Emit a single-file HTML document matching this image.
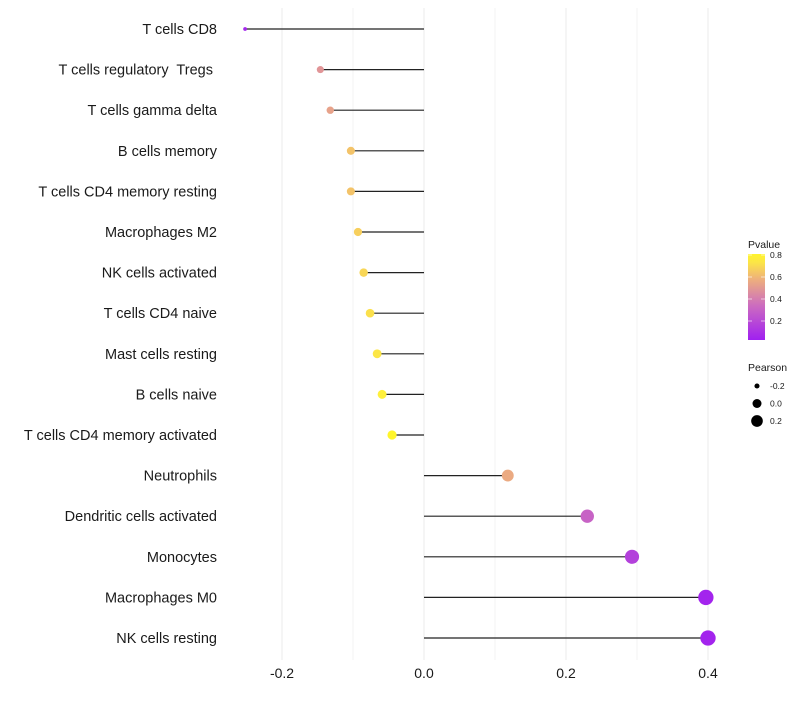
<!DOCTYPE html>
<html><head><meta charset="utf-8"><style>
body{margin:0;background:#fff;font-family:"Liberation Sans",sans-serif;}
text{white-space:pre;}
</style></head><body>
<svg id="chart" width="800" height="700" xmlns="http://www.w3.org/2000/svg" font-family="Liberation Sans, sans-serif"></svg>
<script>
const categories=["T cells CD8","T cells regulatory  Tregs ","T cells gamma delta","B cells memory","T cells CD4 memory resting","Macrophages M2","NK cells activated","T cells CD4 naive","Mast cells resting","B cells naive","T cells CD4 memory activated","Neutrophils","Dendritic cells activated","Monocytes","Macrophages M0","NK cells resting"];
const pearson=[-0.252,-0.146,-0.132,-0.103,-0.103,-0.093,-0.085,-0.076,-0.066,-0.059,-0.045,0.118,0.230,0.293,0.397,0.400];
const pvalues=[0.03,0.5,0.55,0.66,0.66,0.7,0.72,0.75,0.77,0.8,0.86,0.58,0.3,0.15,0.02,0.02];
const xTicks=[-0.2,0.0,0.2,0.4];
const xTickLabels=["-0.2","0.0","0.2","0.4"];
const legendP=[0.2,0.4,0.6,0.8];
const legendPearson=[-0.2,0.0,0.2];

const svg=document.getElementById('chart');
const NS="http://www.w3.org/2000/svg";
function el(t,a,p){const e=document.createElementNS(NS,t);for(const k in a)e.setAttribute(k,a[k]);(p||svg).appendChild(e);return e;}
const x=v=>424+v*710;
const y=i=>29+i*40.6;
const rad=v=>Math.sqrt(Math.max(25+85*v,2));
const stops=[[0,[160,32,240]],[0.35,[205,110,190]],[0.6,[238,175,125]],[0.8,[255,240,60]],[1,[255,255,0]]];
function col(p){p=Math.max(0,Math.min(1,p));for(let i=1;i<stops.length;i++){if(p<=stops[i][0]){const a=stops[i-1],b=stops[i],t=(p-a[0])/(b[0]-a[0]);const c=a[1].map((v,k)=>Math.round(v+(b[1][k]-v)*t));return`rgb(${c})`;}}return'rgb(255,255,0)';}

// grid
for(let k=-2;k<=4;k++){const v=k/10;const g=el('line',{x1:x(v),x2:x(v),y1:8,y2:660,stroke:'#ebebeb','stroke-width':k%2==0?1:0.6});

}
xTicks.forEach((v,i)=>{const t=el('text',{x:x(v),y:678,'text-anchor':'middle','font-size':14,fill:'#1a1a1a'});t.textContent=xTickLabels[i];

});
categories.forEach((c,i)=>{
 const t=el('text',{x:217,y:y(i)+5,'text-anchor':'end','font-size':14.5,fill:'#1a1a1a'});t.textContent=c;
 
 
 const l=el('line',{x1:x(0),x2:x(pearson[i]),y1:y(i),y2:y(i),stroke:'#222','stroke-width':1.2});
 
 
 const d=el('circle',{cx:x(pearson[i]),cy:y(i),r:rad(pearson[i]),fill:col(pvalues[i])});
 
 
});
// legend color
const defs=el('defs',{});const lg=el('linearGradient',{id:'pg',x1:0,y1:1,x2:0,y2:0},defs);
for(let k=0;k<=10;k++){el('stop',{offset:k/10,'stop-color':col(0.85*k/10)},lg);}
const lt=el('text',{x:748,y:248,'font-size':10.5,fill:'#1a1a1a'});lt.textContent='Pvalue';


const bar=el('rect',{x:748,y:254,width:17,height:86,fill:'url(#pg)'});


const py=p=>343-p*110;
legendP.forEach(p=>{el('line',{x1:748,x2:752,y1:py(p),y2:py(p),stroke:'#fff','stroke-opacity':0.6});el('line',{x1:761,x2:765,y1:py(p),y2:py(p),stroke:'#fff','stroke-opacity':0.6});
 const t=el('text',{x:770,y:py(p)+3,'font-size':8.5,fill:'#1a1a1a'});t.textContent=p.toFixed(1);
 
 });
const st=el('text',{x:748,y:371,'font-size':10.5,fill:'#1a1a1a'});st.textContent='Pearson';


legendPearson.forEach((v,i)=>{const cy=386+i*17.5;
 const c=el('circle',{cx:757,cy:cy,r:rad(v)*0.9,fill:'#000'});
 
 
 const t=el('text',{x:770,y:cy+3,'font-size':8.5,fill:'#1a1a1a'});t.textContent=v.toFixed(1);
 
 });
</script>
</body></html>
